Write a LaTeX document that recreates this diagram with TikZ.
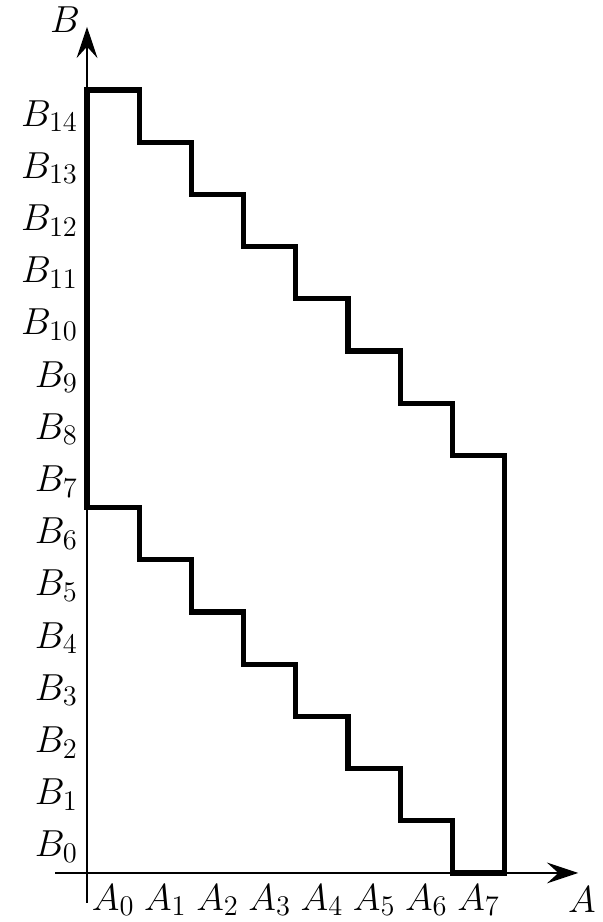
\RequirePackage{fix-cm}
\documentclass[tikz,border=0pt]{standalone}
\usetikzlibrary{arrows.meta}
\DeclareMathSizes{20.5}{20.5}{15.5}{12}
\begin{document}
\begin{tikzpicture}[
  font=\fontsize{20.5}{24}\selectfont,
  axis/.style   = {-{Stealth[length=6mm,width=4mm,inset=2.2mm]}, line width=.85pt},
  region/.style = {line width=2.8pt, line join=miter},
  blbl/.style   = {anchor=east, inner sep=0pt},
  albl/.style   = {anchor=north, inner sep=0pt},
]
\useasboundingbox (-1.667,-0.939) rectangle (9.866,16.724);

% axes
\coordinate (xfrom) at (-0.61,0);
\coordinate (xto)   at (9.41,0);
\coordinate (yfrom) at (0,-0.57);
\coordinate (yto)   at (0,16.21);
\draw[axis] (xfrom) -- (xto);
\draw[axis] (yfrom) -- (yto);
\node (alabel) at (9.48,-0.52) {$A$};
\node (blabel) at (-0.42,16.34) {$B$};

% values of A
\node[albl] (a0) at (0.5,-0.21) {$A_0$};
\node[albl] (a1) at (1.5,-0.21) {$A_1$};
\node[albl] (a2) at (2.5,-0.21) {$A_2$};
\node[albl] (a3) at (3.5,-0.21) {$A_3$};
\node[albl] (a4) at (4.5,-0.21) {$A_4$};
\node[albl] (a5) at (5.5,-0.21) {$A_5$};
\node[albl] (a6) at (6.5,-0.21) {$A_6$};
\node[albl] (a7) at (7.5,-0.21) {$A_7$};

% values of B
\node[blbl] (b0)  at (-0.17,0.5)  {$B_0$};
\node[blbl] (b1)  at (-0.17,1.5)  {$B_1$};
\node[blbl] (b2)  at (-0.17,2.5)  {$B_2$};
\node[blbl] (b3)  at (-0.17,3.5)  {$B_3$};
\node[blbl] (b4)  at (-0.17,4.5)  {$B_4$};
\node[blbl] (b5)  at (-0.17,5.5)  {$B_5$};
\node[blbl] (b6)  at (-0.17,6.5)  {$B_6$};
\node[blbl] (b7)  at (-0.17,7.5)  {$B_7$};
\node[blbl] (b8)  at (-0.17,8.5)  {$B_8$};
\node[blbl] (b9)  at (-0.17,9.5)  {$B_9$};
\node[blbl] (b10) at (-0.17,10.5) {$B_{10}$};
\node[blbl] (b11) at (-0.17,11.5) {$B_{11}$};
\node[blbl] (b12) at (-0.17,12.5) {$B_{12}$};
\node[blbl] (b13) at (-0.17,13.5) {$B_{13}$};
\node[blbl] (b14) at (-0.17,14.5) {$B_{14}$};

% staircase region
\draw[region] (0,15) -- (1,15) -- (1,14) -- (2,14) -- (2,13) -- (3,13) -- (3,12)
  -- (4,12) -- (4,11) -- (5,11) -- (5,10) -- (6,10) -- (6,9) -- (7,9) -- (7,8)
  -- (8,8) -- (8,0) -- (7,0) -- (7,1) -- (6,1) -- (6,2) -- (5,2) -- (5,3)
  -- (4,3) -- (4,4) -- (3,4) -- (3,5) -- (2,5) -- (2,6) -- (1,6) -- (1,7)
  -- (0,7) -- cycle;
\end{tikzpicture}
\end{document}
